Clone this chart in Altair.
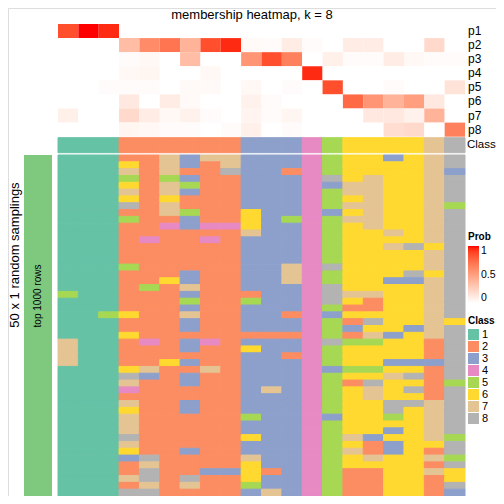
import altair as alt
import pandas as pd

title_text = "membership heatmap, k = 8"
prob_rows = ["p1", "p2", "p3", "p4", "p5", "p6", "p7", "p8"]
membership = [
    [0.85, 1.0, 0.95, 0, 0, 0, 0, 0, 0, 0, 0, 0, 0, 0, 0, 0, 0, 0, 0, 0],
    [0, 0, 0, 0.35, 0.6, 0.7, 0.4, 0.85, 0.95, 0.03, 0.02, 0.1, 0.02, 0, 0.1, 0.1, 0, 0, 0.2, 0],
    [0, 0, 0, 0.02, 0.04, 0, 0.35, 0, 0, 0.55, 0.85, 0.65, 0, 0.08, 0.02, 0.02, 0.1, 0.04, 0.02, 0.02],
    [0, 0, 0, 0.04, 0.05, 0, 0, 0.04, 0, 0, 0, 0, 0.95, 0, 0, 0, 0, 0, 0, 0],
    [0, 0, 0.02, 0.02, 0.02, 0, 0.03, 0.03, 0, 0.04, 0, 0.02, 0, 0.85, 0, 0, 0.02, 0, 0, 0.15],
    [0, 0, 0, 0.12, 0, 0.1, 0.03, 0, 0, 0.07, 0.02, 0, 0, 0, 0.75, 0.55, 0.4, 0.5, 0.12, 0],
    [0.08, 0, 0, 0.2, 0.1, 0.04, 0.07, 0.02, 0, 0.06, 0.02, 0.05, 0, 0, 0, 0.12, 0.12, 0.07, 0.4, 0],
    [0, 0, 0, 0.05, 0.04, 0.02, 0.02, 0, 0.02, 0.08, 0, 0.02, 0, 0, 0, 0, 0.18, 0.2, 0, 0.65],
]
column_class = [1, 1, 1, 2, 2, 2, 2, 2, 2, 3, 3, 3, 4, 5, 6, 6, 6, 6, 7, 8]
samplings = [
    "11122737733345663678", "11162732733345666678", "11172722833245666673",
    "11152532233348676678", "11162752233343776678", "11172732233345776678",
    "11162622233345676678", "11182722233345776675", "11122752263343676678",
    "11152232263545776678", "11122434463345676678", "11122222273345667678",
    "11124224233345666678", "11122222233345667868", "11122222233345666678",
    "11122222233345666678", "11152222233748666678", "11122232233745666868",
    "11122632233745663378", "11125272233348666678", "51122232223348776678",
    "11122252253348626678", "11122232233345226678", "11562272233243666678",
    "11122232233345286676", "11122232233345366378", "11162222222245273678",
    "71124234233348556628", "71122232263345666628", "71122222233245666628",
    "71122632233345663338", "11167227233343556628", "11183232233345667828",
    "11172232233345286625", "11142222237345676828", "11122222233345676628",
    "11172232233345668878", "11162232233345668678", "11172222253343665678",
    "11172222233345666678", "11172222233345663678", "11182222263345736675",
    "11172222233345623668", "11162232233345723628", "11138222273345676675",
    "11127222263345666628", "11128223362345226676", "11178282263345226626",
    "11127272253345226628", "11188222237345226623",
]
class_labels = ["1", "2", "3", "4", "5", "6", "7", "8"]
class_colors = ["#66C2A5", "#FC8D62", "#8DA0CB", "#E78AC3", "#A6D854", "#FFD92F", "#E5C494", "#B3B3B3"]
left_title = "50 x 1 random samplings"
row_title = "top 1000 rows"

ncol = len(column_class)

mem_df = pd.DataFrame([
    {"col": c, "c2": c + 1, "r": i, "r2": i + 1, "value": membership[i][c]}
    for i in range(len(prob_rows)) for c in range(ncol)
])
lab_df = pd.DataFrame({"r": [i + 0.5 for i in range(len(prob_rows))], "label": prob_rows})
cls_df = pd.DataFrame({"col": list(range(ncol)), "c2": [c + 1 for c in range(ncol)],
                       "r": 0, "r2": 1, "cls": [str(v) for v in column_class]})
main_df = pd.DataFrame([
    {"col": c, "c2": c + 1, "r": i, "r2": i + 1, "cls": samplings[i][c]}
    for i in range(len(samplings)) for c in range(ncol)
])

xs = alt.Scale(domain=[0, ncol], range=[50, 457], nice=False, zero=False)
X = alt.X("col:Q", scale=xs, axis=None)
mem_y = alt.Scale(domain=[0, 8], range=[16, 128.7], nice=False, zero=False)
cls_y = alt.Scale(domain=[0, 1], range=[129.7, 144.7], nice=False, zero=False)
main_y = alt.Scale(domain=[0, 50], range=[147, 488], nice=False, zero=False)
cls_scale = alt.Scale(domain=class_labels, range=class_colors)
prob_scale = alt.Scale(domain=[0, 1], range=["#FFFFFF", "#FF0000"], interpolate="lab")

mem = alt.Chart(mem_df).mark_rect(strokeWidth=0).encode(
    x=X, x2="c2",
    y=alt.Y("r:Q", scale=mem_y, axis=None), y2="r2",
    color=alt.Color("value:Q", scale=prob_scale,
                    legend=alt.Legend(title="Prob", orient="none", legendX=460, legendY=224,
                                      direction="vertical", gradientLength=57, gradientThickness=11,
                                      gradientStrokeWidth=0, values=[0, 0.5, 1], format=".1~f",
                                      labelFontSize=10.5, titleFontSize=10, titleFontWeight="bold",
                                      titlePadding=4, labelOffset=2, labelColor="black",
                                      titleColor="black")),
)
labels = alt.Chart(lab_df).mark_text(align="left", baseline="middle", fontSize=12, dx=3, color="black").encode(
    x=alt.X(datum=ncol, type="quantitative", scale=xs, axis=None),
    y=alt.Y("r:Q", scale=mem_y, axis=None),
    text="label:N",
)
cls_row = alt.Chart(cls_df).mark_rect(strokeWidth=1).encode(
    x=X, x2="c2",
    y=alt.Y("r:Q", scale=cls_y, axis=None), y2="r2",
    color=alt.Color("cls:N", scale=cls_scale, legend=None),
    stroke=alt.Stroke("cls:N", scale=cls_scale, legend=None),
)
cls_lab = alt.Chart(pd.DataFrame({"r": [0.5], "label": ["Class"]})).mark_text(
    align="left", baseline="middle", fontSize=11.5, dx=2, color="black").encode(
    x=alt.X(datum=ncol, type="quantitative", scale=xs, axis=None),
    y=alt.Y("r:Q", scale=cls_y, axis=None),
    text="label:N",
)
main = alt.Chart(main_df).mark_rect(strokeWidth=1).encode(
    x=X, x2="c2",
    y=alt.Y("r:Q", scale=main_y, axis=None), y2="r2",
    color=alt.Color("cls:N", scale=cls_scale,
                    legend=alt.Legend(title="Class", orient="none", legendX=460, legendY=308,
                                      symbolType="square", symbolSize=121, symbolStrokeWidth=0,
                                      labelFontSize=11, titleFontSize=10, titleFontWeight="bold",
                                      titlePadding=3, rowPadding=0, labelOffset=3,
                                      labelColor="black", titleColor="black")),
    stroke=alt.Stroke("cls:N", scale=cls_scale, legend=None),
)
bar = alt.Chart(pd.DataFrame({"r": [0], "r2": [50]})).mark_rect(color="#7FC97F", strokeWidth=0).encode(
    x=alt.value(16), x2=alt.value(44),
    y=alt.Y("r:Q", scale=main_y, axis=None), y2="r2",
)
bar_text = alt.Chart(pd.DataFrame({"t": [row_title]})).mark_text(
    angle=270, fontSize=10, baseline="middle", align="center", color="black").encode(
    x=alt.value(30), y=alt.value(288), text="t:N")
left_text = alt.Chart(pd.DataFrame({"t": [left_title]})).mark_text(
    angle=270, fontSize=13, baseline="middle", align="center", color="black").encode(
    x=alt.value(7), y=alt.value(247), text="t:N")
title = alt.Chart(pd.DataFrame({"t": [title_text]})).mark_text(
    fontSize=13, baseline="middle", align="center", color="black").encode(
    x=alt.value(244), y=alt.value(7), text="t:N")

chart = alt.layer(mem, labels, cls_row, cls_lab, main, bar, bar_text, left_text, title).resolve_scale(
    y="independent", color="independent", stroke="independent"
).properties(
    width=488, height=488, padding=0, autosize="none"
).configure_view(stroke=None).configure(font="Liberation Sans")

chart.save("out.html", embed_options={"renderer": "svg", "actions": False})
